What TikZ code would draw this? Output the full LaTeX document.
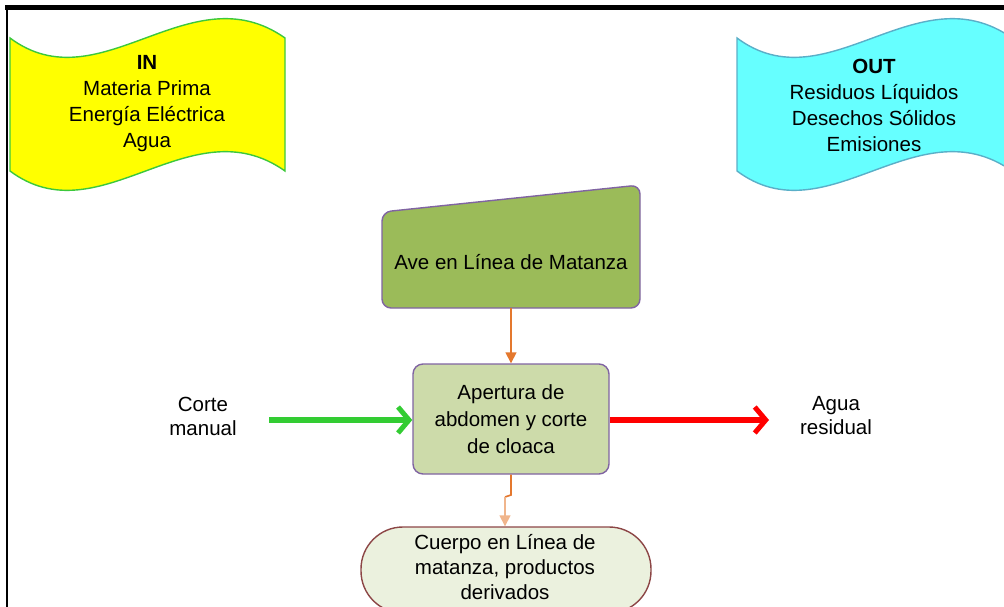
\documentclass[tikz,border=0pt]{standalone}
\usepackage{fontspec}
\setmainfont{Liberation Sans}
\usetikzlibrary{arrows.meta}
\definecolor{inyellow}{HTML}{FFFF00}
\definecolor{inborder}{HTML}{3CC83C}
\definecolor{outcyan}{HTML}{66FFFF}
\definecolor{outborder}{HTML}{5AAFC8}
\definecolor{olive}{HTML}{9BBB59}
\definecolor{lightolive}{HTML}{CDDBAA}
\definecolor{purpleb}{HTML}{8064A2}
\definecolor{termfill}{HTML}{EBF1DE}
\definecolor{termborder}{HTML}{8C4646}
\definecolor{orangec}{HTML}{E4782E}
\definecolor{greenc}{HTML}{33CC33}
\definecolor{redc}{HTML}{FF0000}
\tikzset{
  txt/.style={font=\fontsize{20.5}{26}\selectfont, align=center, inner sep=0pt},
  banner/.style={line width=1.4pt},
  procbox/.style={draw=purpleb, line width=1.4pt, fill=lightolive, rounded corners=10pt,
    minimum width=196pt, minimum height=110pt, inner sep=0pt, align=center,
    font=\fontsize{20.5}{27}\selectfont},
  termbox/.style={draw=termborder, line width=1.4pt, fill=termfill, rounded corners=42pt,
    minimum width=290pt, minimum height=86pt, inner sep=0pt},
  orarrow/.style={draw=orangec, line width=1.6pt, -{Triangle[length=11pt,width=11pt]}},
  bigarrow/.style={line width=6pt, -{Straight Barb[length=11pt,width=26pt,line width=5pt]}},
}
\begin{document}
\begin{tikzpicture}[x=1pt,y=-1pt]
\useasboundingbox (0,0) rectangle (1004,607);
% frame
\draw[line width=5pt] (5,7.5) -- (1004,7.5);
\draw[line width=2pt] (6.5,7.5) -- (6.5,607);
% IN banner
\draw[banner, draw=inborder, fill=inyellow]
  (10,38) .. controls (100,105) and (190,-29) .. (285,38) -- (285,171)
  .. controls (190,104) and (100,238) .. (10,171) -- cycle;
\node[txt] (in) at (147,104) {\textbf{IN}\\Materia Prima\\Energía Eléctrica\\Agua};
% OUT banner
\draw[banner, draw=outborder, fill=outcyan]
  (737,38) .. controls (827,105) and (917,-29) .. (1012,38) -- (1012,171)
  .. controls (917,104) and (827,238) .. (737,171) -- cycle;
\node[txt] (out) at (874,105) {\textbf{OUT}\\Residuos Líquidos\\Desechos Sólidos\\Emisiones};
% manual input box
\draw[draw=purpleb, line width=1.4pt, fill=olive, rounded corners=9pt]
  (382,212) -- (640,185) -- (640,308) -- (382,308) -- cycle;
\coordinate (aveS) at (511,308);
\node[txt] (ave) at (511,262) {Ave en Línea de Matanza};
% process box
\node[procbox] (mid) at (511,419) {Apertura de\\abdomen y corte\\de cloaca};
% terminal
\node[termbox] (term) at (506,570) {};
\node[txt, font=\fontsize{20.5}{25}\selectfont] (termtxt) at (505,567) {Cuerpo en Línea de\\matanza, productos\\derivados};
% labels
\node[txt, font=\fontsize{20.5}{24}\selectfont] (corte) at (203,416) {Corte\\manual};
\node[txt, font=\fontsize{20.5}{24}\selectfont] (agua) at (836,416) {Agua\\residual};
% connectors
\draw[orarrow] (aveS) -- (mid.north);
\coordinate (bend1) at (511,495);
\coordinate (bend2) at (505,497);
\draw[draw=orangec, line width=1.6pt] (mid.south) -- (bend1) -- (bend2);
\draw[orarrow, draw=orangec!55] (bend2) -- (bend2 |- term.north);
\coordinate (gstart) at (269,420);
\coordinate (rend) at (769,420);
\draw[bigarrow, draw=greenc] (gstart) -- (mid.west |- gstart);
\draw[bigarrow, draw=redc] (mid.east |- rend) -- (rend);
\end{tikzpicture}
\end{document}
